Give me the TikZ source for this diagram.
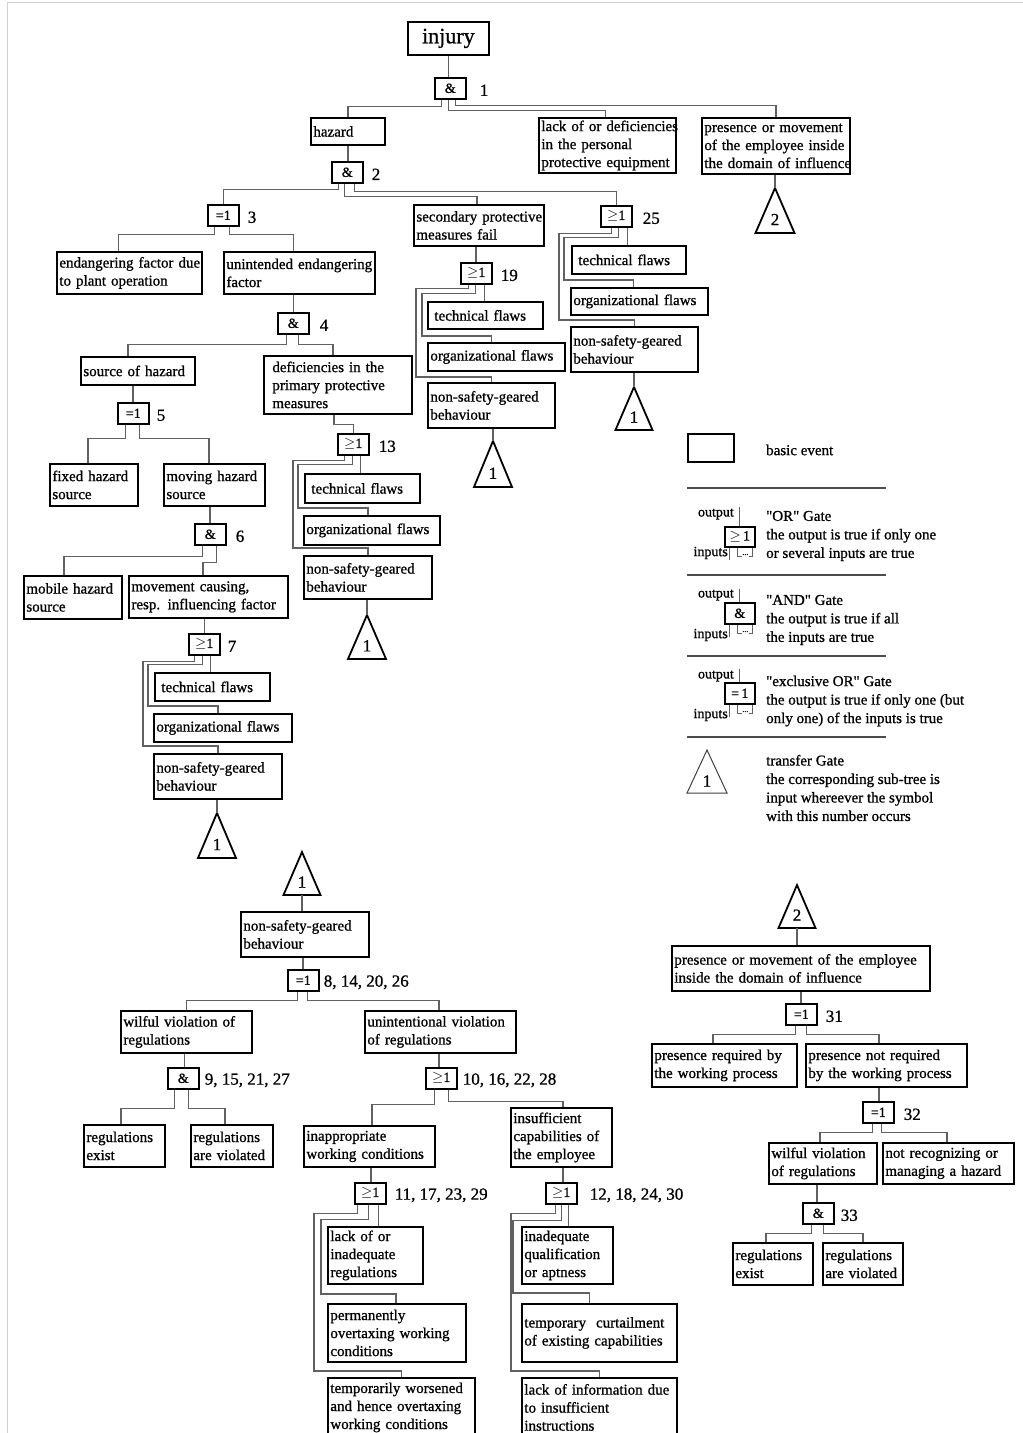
\documentclass[tikz,border=0pt]{standalone}
\usepackage{fontspec}
\setmainfont{Liberation Serif}[Ligatures=TeXOff, UprightFeatures={FakeBold=0.9}]

% one line of box text, never broken
\newcommand{\lnx}[1]{\mbox{#1}}

% event box: name, left, top, right, bottom, text
\newcommand{\evbox}[6]{%
  \pgfmathsetmacro\evw{#4-#2}%
  \pgfmathsetmacro\evh{#5-#3}%
  \pgfmathsetmacro\evt{#4-#2-5}%
  \node[ev, minimum width=\evw pt, minimum height=\evh pt, text width=\evt pt,
        anchor=north west] (#1) at (#2,#3) {#6};}

% logic gate: name, left, top, symbol, number label, gap to label
\newcommand{\gate}[6]{%
  \node[gt, anchor=north west] (#1) at (#2,#3) {#4};
  \node[gnum] (#1n) at ([xshift=#6pt, yshift=-2pt]#1.east) {#5};}

% transfer triangle: name, apex x, apex y, half width, height, number
\newcommand{\trans}[6]{%
  \coordinate (#1) at (#2,#3);
  \draw[tribox] (#1) -- ++(-#4,#5) -- ++(2*#4,0) -- cycle;
  \coordinate (#1b) at ([yshift=-#5pt]#1);
  \pgfmathsetmacro\trny{-0.7*#5}%
  \node[trinum] (#1n) at ([yshift=\trny pt]#1) {#6};}

\begin{document}
\begin{tikzpicture}[x=1pt, y=-1pt,
  ev/.style={draw=black, line width=1.8pt, inner xsep=2.5pt, inner ysep=0pt,
             align=left, font=\fontsize{15}{18}\selectfont},
  gt/.style={draw=black, line width=1.6pt, minimum width=31pt, minimum height=21pt,
             inner sep=0pt, font=\fontsize{14}{14}\selectfont},
  gnum/.style={anchor=west, inner sep=0pt, font=\fontsize{17}{17}\selectfont},
  wire/.style={draw=black!62, line width=1.3pt},
  tribox/.style={draw=black, line width=1.8pt, line join=miter},
  trinum/.style={inner sep=0pt, font=\fontsize{17}{17}\selectfont},
  legtxt/.style={anchor=west, inner sep=0pt, align=left, font=\fontsize{15}{18.5}\selectfont},
  iolab/.style={anchor=east, inner sep=0pt, font=\fontsize{14}{14}\selectfont},
  sep/.style={draw=black!70, line width=1.5pt},
  thin/.style={draw=black!62, line width=1pt},
]
\useasboundingbox (0,0) rectangle (1023,1433);
\clip (0,0) rectangle (1023,1433);
\fill[white] (0,0) rectangle (1023,1433);

% page frame
\draw[black!18, line width=1.5pt] (7.5,1433) -- (7.5,2.5) -- (1023,2.5);

% ---------------- main tree ----------------
\node[draw=black, line width=1.8pt, minimum width=81pt, minimum height=33pt, inner sep=0pt,
      anchor=north west, font=\fontsize{22}{22}\selectfont] (injury) at (407,21) {\raisebox{-2pt}{injury}};

\gate{g1}{434}{77}{\&}{1}{13}
\evbox{hazard}{310}{117}{384}{144}{\lnx{hazard}}
\evbox{lackppe}{538}{117}{675}{172}{\lnx{lack of or deficiencies}\\\lnx{in the personal}\\\lnx{protective equipment}}
\evbox{presence}{701}{117}{849}{173}{\lnx{presence or movement}\\\lnx{of the employee inside}\\\lnx{the domain of influence}}
\trans{ttop}{775}{188}{19.5}{45}{2}

\gate{g2}{331}{161}{\&}{2}{8}
\gate{g3}{207}{204}{=1}{3}{8}
\evbox{secondary}{413}{204}{543}{245}{\lnx{secondary protective}\\\lnx{measures fail}}
\gate{g25}{600}{205}{$\geq$1}{25}{10}

\evbox{endang}{56}{251}{201}{293}{\lnx{endangering factor due}\\\lnx{to plant operation}}
\evbox{unint}{223}{251}{374}{293}{\lnx{unintended endangering}\\\lnx{factor}}
\gate{g4}{277}{312}{\&}{4}{10}
\evbox{source}{80}{356}{194}{384}{\lnx{source of hazard}}
\evbox{defic}{263}{355}{411}{413}{\lnx{\hspace*{6pt}deficiencies in the}\\\lnx{\hspace*{6pt}primary protective}\\\lnx{\hspace*{6pt}measures}}
\gate{g5}{117}{402}{=1}{5}{7}
\evbox{fixed}{49}{463}{137}{505}{\lnx{fixed hazard}\\\lnx{source}}
\evbox{moving}{163}{463}{264}{505}{\lnx{moving hazard}\\\lnx{source}}
\gate{g6}{194}{523}{\&}{6}{9}
\evbox{mobile}{23}{575}{121}{618}{\lnx{mobile hazard}\\\lnx{source}}
\evbox{movement}{128}{575}{287}{617}{\lnx{movement causing,}\\\lnx{resp. influencing factor}}
\gate{g7}{188}{633}{$\geq$1}{7}{7}
\evbox{tf7}{154}{672}{269}{700}{\lnx{\hspace*{4pt}technical flaws}}
\evbox{of7}{153}{713}{291}{741}{\lnx{organizational flaws}}
\evbox{ns7}{153}{753}{281}{798}{\lnx{non-safety-geared}\\\lnx{behaviour}}
\trans{t7}{217}{813}{19}{45}{1}

\gate{g13}{337}{433}{$\geq$1}{13}{9}
\evbox{tf13}{304}{473}{419}{502}{\lnx{\hspace*{4pt}technical flaws}}
\evbox{of13}{303}{515}{439}{544}{\lnx{organizational flaws}}
\evbox{ns13}{303}{555}{431}{598}{\lnx{non-safety-geared}\\\lnx{behaviour}}
\trans{t13}{367}{615}{19}{44}{1}

\gate{g19}{460}{262}{$\geq$1}{19}{8}
\evbox{tf19}{427}{301}{542}{328}{\lnx{\hspace*{4pt}technical flaws}}
\evbox{of19}{427}{342}{564}{370}{\lnx{organizational flaws}}
\evbox{ns19}{427}{382}{554}{427}{\lnx{non-safety-geared}\\\lnx{behaviour}}
\trans{t19}{493}{441}{19}{46}{1}

\evbox{tf25}{571}{245}{685}{273}{\lnx{\hspace*{4pt}technical flaws}}
\evbox{of25}{570}{287}{707}{314}{\lnx{organizational flaws}}
\evbox{ns25}{570}{326}{697}{371}{\lnx{non-safety-geared}\\\lnx{behaviour}}
\trans{t25}{634}{387}{18.5}{43}{1}

% connectors of the main tree
\draw[wire] (injury.south) -- (injury.south |- g1.north);
\draw[wire] ([xshift=-8.5pt]g1.south) -- ++(0,7) -| (hazard.north);
\draw[wire] ([xshift=-1.5pt]g1.south) -- ++(0,11) -| ([xshift=-2pt]lackppe.north);
\draw[wire] ([xshift=5.5pt]g1.south) -- ++(0,6) -| (presence.north);
\draw[wire] (ttop |- presence.south) -- (ttop);

\draw[wire] (hazard.south) -- (hazard.south |- g2.north);
\draw[wire] ([xshift=-8.5pt]g2.south) -- ++(0,6) -| (g3.north);
\draw[wire] ([xshift=-2.5pt]g2.south) -- ++(0,13) -| ([xshift=-2pt]secondary.north);
\draw[wire] ([xshift=7.5pt]g2.south) -- ++(0,8) -| (g25.north);

\draw[wire] ([xshift=-8.5pt]g3.south) -- ++(0,8) -| ([xshift=-11pt]endang.north);
\draw[wire] ([xshift=6.5pt]g3.south) -- ++(0,8) -| ([xshift=-6pt]unint.north);
\draw[wire] ([xshift=-6pt]unint.south) -- ([xshift=-6pt]unint.south |- g4.north);
\draw[wire] ([xshift=-6.5pt]g4.south) -- ++(0,10) -| ([xshift=-10pt]source.north);
\draw[wire] ([xshift=5.5pt]g4.south) -- ++(0,10) -| ([xshift=-5pt]defic.north);
\draw[wire] ([xshift=-5pt]source.south) -- ([xshift=-5pt]source.south |- g5.north);
\draw[wire] ([xshift=-7.5pt]g5.south) -- ++(0,14) -| ([xshift=-6pt]fixed.north);
\draw[wire] ([xshift=6.5pt]g5.south) -- ++(0,14) -| ([xshift=-5.5pt]moving.north);
\draw[wire] ([xshift=-4.5pt]moving.south) -- ([xshift=-4.5pt]moving.south |- g6.north);
\draw[wire] ([xshift=-7.5pt]g6.south) -- ++(0,11) -| ([xshift=-9pt]mobile.north);
\draw[wire] ([xshift=6.5pt]g6.south) -- ++(0,17) -| ([xshift=-5.5pt]movement.north);
\draw[wire] ([xshift=-4pt]movement.south) -- ([xshift=-4pt]movement.south |- g7.north);
\draw[wire] ([xshift=6.5pt]g7.south) -- ([xshift=6.5pt]g7.south |- tf7.north);
\draw[wire] ([xshift=-1.5pt]g7.south) -- ++(0,9) -| ([xshift=-5pt,yshift=7pt]of7.north west) -| ([xshift=-5pt]of7.north);
\draw[wire] ([xshift=-9.5pt]g7.south) -- ++(0,6) -| ([xshift=-10pt,yshift=7pt]ns7.north west) -| (ns7.north);
\draw[wire] (t7 |- ns7.south) -- (t7);

\draw[wire] ([xshift=-4pt]defic.south) -- ++(0,10) -| (g13.north);
\draw[wire] ([xshift=7.5pt]g13.south) -- ([xshift=7.5pt]g13.south |- tf13.north);
\draw[wire] ([xshift=-0.5pt]g13.south) -- ++(0,9) -| ([xshift=-5pt,yshift=7pt]of13.north west) -| ([xshift=-4pt]of13.north);
\draw[wire] ([xshift=-8.5pt]g13.south) -- ++(0,5) -| ([xshift=-10pt,yshift=7pt]ns13.north west) -| (ns13.north);
\draw[wire] (t13 |- ns13.south) -- (t13);

\draw[wire] ([xshift=-3pt]secondary.south) -- ([xshift=-3pt]secondary.south |- g19.north);
\draw[wire] ([xshift=8pt]g19.south) -- ([xshift=8pt]g19.south |- tf19.north);
\draw[wire] ([xshift=-1pt]g19.south) -- ++(0,9) -| ([xshift=-5pt,yshift=6pt]of19.north west) -| ([xshift=-5pt]of19.north);
\draw[wire] ([xshift=-8pt]g19.south) -- ++(0,4) -| ([xshift=-11pt,yshift=5pt]ns19.north west) -| (ns19.north);
\draw[wire] (t19 |- ns19.south) -- (t19);

\draw[wire] ([xshift=11pt]g25.south) -- ([xshift=11pt]g25.south |- tf25.north);
\draw[wire] ([xshift=2.5pt]g25.south) -- ++(0,10) -| ([xshift=-6pt,yshift=7pt]of25.north west) -| ([xshift=-6pt]of25.north);
\draw[wire] ([xshift=-4.5pt]g25.south) -- ++(0,6) -| ([xshift=-11pt,yshift=6pt]ns25.north west) -| (ns25.north);
\draw[wire] (t25 |- ns25.south) -- (t25);

% ---------------- legend ----------------
\node[draw=black, line width=1.8pt, minimum width=46pt, minimum height=28pt, inner sep=0pt,
      anchor=north west] (lbasic) at (687,433) {};
\node[legtxt] (lbasictx) at (766,450) {basic event};
\draw[sep] (687,488) -- (886,488);

\node[gt, anchor=north west, minimum width=30pt, minimum height=20pt] (lor) at (724,526) {$\geq$\,1};
\draw[thin] (lor.north) -- ++(0,-19);
\node[iolab] (lorout) at (734,514) {output};
\node[iolab] (lorin) at (728,553) {inputs};
\draw[thin] ([xshift=-10pt]lor.south) -- ++(0,12);
\draw[thin] ([xshift=-2pt]lor.south) |- ++(4,9);
\draw[thin] ([xshift=13pt]lor.south) |- ++(-4,9);
\node[inner sep=0pt, font=\fontsize{8}{8}\selectfont] (lordots) at ([xshift=5.5pt,yshift=-7pt]lor.south) {...};
\node[legtxt] (lortx) at (766,536) {"OR" Gate\\the output is true if only one\\or several inputs are true};
\draw[sep] (687,575) -- (886,575);

\node[gt, anchor=north west, minimum width=30pt, minimum height=21pt] (land) at (724,602) {\&};
\draw[thin] (land.north) -- ++(0,-13);
\node[iolab] (landout) at (734,595) {output};
\node[iolab] (landin) at (728,635) {inputs};
\draw[thin] ([xshift=-10pt]land.south) -- ++(0,12);
\draw[thin] ([xshift=-2pt]land.south) |- ++(4,9);
\draw[thin] ([xshift=13pt]land.south) |- ++(-4,9);
\node[inner sep=0pt, font=\fontsize{8}{8}\selectfont] (landdots) at ([xshift=5.5pt,yshift=-7pt]land.south) {...};
\node[legtxt] (landtx) at (766,620) {"AND" Gate\\the output is true if all\\the inputs are true};
\draw[sep] (687,656) -- (886,656);

\node[gt, anchor=north west, minimum width=30pt, minimum height=21pt] (lxor) at (724,682) {=\,1};
\draw[thin] (lxor.north) -- ++(0,-13);
\node[iolab] (lxorout) at (734,676) {output};
\node[iolab] (lxorin) at (728,715) {inputs};
\draw[thin] ([xshift=-10pt]lxor.south) -- ++(0,12);
\draw[thin] ([xshift=-2pt]lxor.south) |- ++(4,9);
\draw[thin] ([xshift=13pt]lxor.south) |- ++(-4,9);
\node[inner sep=0pt, font=\fontsize{8}{8}\selectfont] (lxordots) at ([xshift=5.5pt,yshift=-7pt]lxor.south) {...};
\node[legtxt] (lxortx) at (766,701) {"exclusive OR" Gate\\the output is true if only one (but\\only one) of the inputs is true};
\draw[sep] (687,737) -- (886,737);

\coordinate (ltri) at (707,750);
\draw[black!75, line width=1pt, line join=miter] (ltri) -- ++(-20,43) -- ++(40,0) -- cycle;
\node[trinum] (ltrin) at (707,781) {1};
\node[legtxt] (ltritx) at (766,788) {transfer Gate\\the corresponding sub-tree is\\input whereever the symbol\\with this number occurs};

% ---------------- sub-tree 1 ----------------
\trans{tb1}{302}{852}{18.5}{43}{1}
\evbox{nsb}{240}{911}{368}{956}{\lnx{non-safety-geared}\\\lnx{behaviour}}
\gate{g8}{287}{969}{=1}{8, 14, 20, 26}{4}
\evbox{wilful}{120}{1010}{251}{1052}{\lnx{wilful violation of}\\\lnx{regulations}}
\evbox{unintv}{364}{1010}{515}{1052}{\lnx{unintentional violation}\\\lnx{of regulations}}
\gate{g9}{167}{1067}{\&}{9, 15, 21, 27}{5}
\gate{g10}{425}{1067}{$\geq$1}{10, 16, 22, 28}{5}
\evbox{regex}{83}{1124}{164}{1166}{\lnx{regulations}\\\lnx{exist}}
\evbox{regvi}{190}{1124}{272}{1166}{\lnx{regulations}\\\lnx{are violated}}
\evbox{inapp}{303}{1125}{434}{1166}{\lnx{inappropriate}\\\lnx{working conditions}}
\evbox{insuff}{510}{1107}{611}{1166}{\lnx{insufficient}\\\lnx{capabilities of}\\\lnx{the employee}}
\gate{g11}{354}{1182}{$\geq$1}{11, 17, 23, 29}{8}
\gate{g12}{545}{1182}{$\geq$1}{12, 18, 24, 30}{12}
\evbox{lackreg}{327}{1226}{422}{1283}{\lnx{lack of or}\\\lnx{inadequate}\\\lnx{regulations}}
\evbox{perm}{327}{1303}{465}{1361}{\lnx{permanently}\\\lnx{overtaxing working}\\\lnx{conditions}}
\evbox{tempw}{327}{1377}{474}{1436}{\lnx{temporarily worsened}\\\lnx{and hence overtaxing}\\\lnx{working conditions}}
\evbox{inadeq}{521}{1226}{612}{1283}{\lnx{inadequate}\\\lnx{qualification}\\\lnx{or aptness}}
\evbox{tempc}{521}{1303}{676}{1361}{\lnx{temporary\ \ curtailment}\\\lnx{of existing capabilities}}
\evbox{lackinfo}{521}{1377}{676}{1436}{\lnx{lack of information due}\\\lnx{to insufficient}\\\lnx{instructions}}

\draw[wire] (tb1b) -- (tb1b |- nsb.north);
\draw[wire] ([xshift=-2pt]nsb.south) -- ([xshift=-2pt]nsb.south |- g8.north);
\draw[wire] ([xshift=-5.5pt]g8.south) -- ++(0,9) -| (wilful.north);
\draw[wire] ([xshift=4.5pt]g8.south) -- ++(0,9) -| ([xshift=-1.5pt]unintv.north);
\draw[wire] ([xshift=-2pt]wilful.south) -- ([xshift=-2pt]wilful.south |- g9.north);
\draw[wire] ([xshift=-9pt]g9.south) -- ++(0,19) -| ([xshift=-3.5pt]regex.north);
\draw[wire] ([xshift=5pt]g9.south) -- ++(0,19) -| ([xshift=-7pt]regvi.north);
\draw[wire] ([xshift=-1.5pt]unintv.south) -- ([xshift=-1.5pt]unintv.south |- g10.north);
\draw[wire] ([xshift=-6.5pt]g10.south) -- ++(0,15) -| ([xshift=2.5pt]inapp.north);
\draw[wire] ([xshift=7.5pt]g10.south) -- ++(0,12) -| ([xshift=1.5pt]insuff.north);
\draw[wire] ([xshift=1.5pt]inapp.south) -- ([xshift=1.5pt]inapp.south |- g11.north);
\draw[wire] ([xshift=8.5pt]g11.south) -- ([xshift=8.5pt]g11.south |- lackreg.north);
\draw[wire] ([xshift=-1.5pt]g11.south) -- ++(0,15) -| ([xshift=-6pt,yshift=9pt]perm.north west) -| ([xshift=-1pt]perm.north);
\draw[wire] ([xshift=-12.5pt]g11.south) -- ++(0,9) -| ([xshift=-13pt,yshift=6pt]tempw.north west) -| (tempw.north);
\draw[wire] ([xshift=1.5pt]insuff.south) -- ([xshift=1.5pt]insuff.south |- g12.north);
\draw[wire] ([xshift=7.5pt]g12.south) -- ([xshift=7.5pt]g12.south |- inadeq.north);
\draw[wire] ([xshift=0.5pt]g12.south) -- ++(0,16) -| ([xshift=-8pt,yshift=10pt]tempc.north west) -| ([xshift=-10pt]tempc.north);
\draw[wire] ([xshift=-5.5pt]g12.south) -- ++(0,9) -| ([xshift=-10pt,yshift=6pt]lackinfo.north west) -| (lackinfo.north);

% ---------------- sub-tree 2 ----------------
\trans{tb2}{797}{885}{18.5}{43}{2}
\evbox{pres2}{671}{945}{929}{990}{\lnx{presence or movement of the employee}\\\lnx{inside the domain of influence}}
\gate{g31}{785}{1003}{=1}{31}{8}
\evbox{presreq}{651}{1043}{796}{1086}{\lnx{presence required by}\\\lnx{the working process}}
\evbox{presnot}{805}{1043}{966}{1086}{\lnx{presence not required}\\\lnx{by the working process}}
\gate{g32}{862}{1101}{=1}{32}{9}
\evbox{wilful2}{768}{1142}{876}{1183}{\lnx{wilful violation}\\\lnx{of regulations}}
\evbox{notrec}{882}{1142}{1013}{1183}{\lnx{not recognizing or}\\\lnx{managing a hazard}}
\gate{g33}{802}{1202}{\&}{33}{6}
\evbox{regex2}{732}{1242}{812}{1284}{\lnx{regulations}\\\lnx{exist}}
\evbox{regvi2}{822}{1242}{902}{1284}{\lnx{regulations}\\\lnx{are violated}}

\draw[wire] (tb2b) -- (tb2b |- pres2.north);
\draw[wire] (pres2.south) -- (pres2.south |- g31.north);
\draw[wire] ([xshift=-5.5pt]g31.south) -- ++(0,9) -| ([xshift=-11.5pt]presreq.north);
\draw[wire] ([xshift=5.5pt]g31.south) -- ++(0,9) -| ([xshift=-7.5pt]presnot.north);
\draw[wire] ([xshift=-7.5pt]presnot.south) -- ([xshift=-7.5pt]presnot.south |- g32.north);
\draw[wire] ([xshift=-5.5pt]g32.south) -- ++(0,9) -| ([xshift=-3pt]wilful2.north);
\draw[wire] ([xshift=3.5pt]g32.south) -- ++(0,9) -| ([xshift=-1.5pt]notrec.north);
\draw[wire] ([xshift=-6pt]wilful2.south) -- ([xshift=-6pt]wilful2.south |- g33.north);
\draw[wire] ([xshift=-6.5pt]g33.south) -- ++(0,9) -| ([xshift=-7pt]regex2.north);
\draw[wire] ([xshift=5.5pt]g33.south) -- ++(0,9) -| (regvi2.north);
\end{tikzpicture}
\end{document}
